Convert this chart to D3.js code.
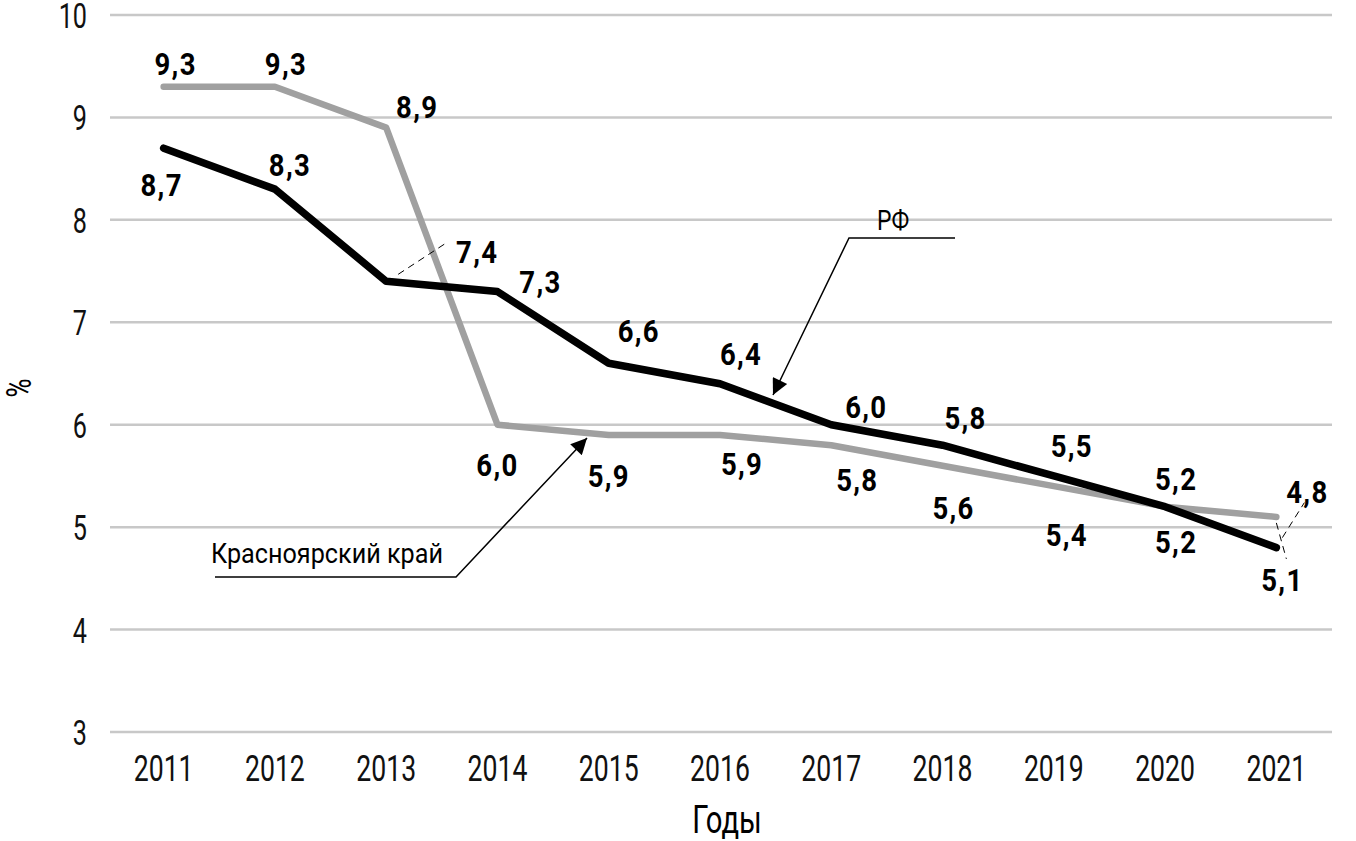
<!DOCTYPE html>
<html>
<head>
<meta charset="utf-8">
<script src="https://cdn.jsdelivr.net/npm/d3@7"></script>
<style>
  body { margin: 0; background: #fff; }
  svg { display: block; font-family: "Roboto", "DejaVu Sans Condensed", sans-serif; }
</style>
</head>
<body>
<div id="chart"></div>
<script>
// --- data ---
const years = ["2011", "2012", "2013", "2014", "2015", "2016", "2017", "2018", "2019", "2020", "2021"];
const rfValues = [8.7, 8.3, 7.4, 7.3, 6.6, 6.4, 6.0, 5.8, 5.5, 5.2, 4.8];
const krasValues = [9.3, 9.3, 8.9, 6.0, 5.9, 5.9, 5.8, 5.6, 5.4, 5.2, 5.1];
const yTicks = [3, 4, 5, 6, 7, 8, 9, 10];

// label offsets (px from the point) so labels don't collide
const rfLabelOffsets = [[-2, 37], [15, -24], [91, -29], [43, -10], [30, -32], [21, -30], [35, -18], [23, -27], [18, -30], [11, -28], [31, -56]];
const krasLabelOffsets = [[12, -23], [11, -23], [31, -21], [0, 40], [0, 41], [22, 29], [26, 35], [11, 42], [13, 49], [11, 35], [6, 63]];

const W = 1356, H = 841;
const svg = d3.select('#chart').append('svg').attr('width', W).attr('height', H);

const x = d3.scalePoint().domain(years).range([108, 1332]).padding(0.5);
const y = d3.scaleLinear().domain([3, 10]).range([732, 15]);

// condensed look: squeeze text horizontally
const tr = (px, py, sx) => `translate(${px},${py}) scale(${sx},1)`;

const defs = svg.append('defs');
defs.append('marker')
  .attr('id', 'arrow')
  .attr('viewBox', '0 0 10 10')
  .attr('refX', 10).attr('refY', 5)
  .attr('markerWidth', 24).attr('markerHeight', 16)
  .attr('markerUnits', 'userSpaceOnUse')
  .attr('orient', 'auto')
  .append('path').attr('d', 'M0,0 L10,5 L0,10 Z').attr('fill', '#000');

// gridlines
svg.append('g').selectAll('line').data(yTicks).join('line')
  .attr('x1', 110).attr('x2', 1332)
  .attr('y1', d => y(d)).attr('y2', d => y(d))
  .attr('stroke', '#c8c8c8').attr('stroke-width', 2.5);

// y tick labels
svg.append('g').selectAll('text').data(yTicks).join('text')
  .attr('transform', d => tr(87, y(d) + 13, 0.72))
  .attr('text-anchor', 'end')
  .attr('font-size', 35)
  .attr('fill', '#111')
  .text(d => d);

// x tick labels
svg.append('g').selectAll('text').data(years).join('text')
  .attr('transform', d => tr(x(d), 781, 0.72))
  .attr('text-anchor', 'middle')
  .attr('font-size', 37)
  .attr('fill', '#111')
  .text(d => d);

// axis titles
svg.append('text')
  .attr('transform', 'translate(31,388) rotate(-90) scale(0.72,1)')
  .attr('text-anchor', 'middle')
  .attr('font-size', 36)
  .text('%');
svg.append('text')
  .attr('transform', tr(727, 833, 0.75))
  .attr('text-anchor', 'middle')
  .attr('font-size', 39)
  .text('Годы');

const line = d3.line().x((d, i) => x(years[i])).y(d => y(d));

svg.append('path').datum(krasValues)
  .attr('d', line)
  .attr('fill', 'none')
  .attr('stroke', '#a0a0a0')
  .attr('stroke-width', 6.5)
  .attr('stroke-linecap', 'round')
  .attr('stroke-linejoin', 'round');

svg.append('path').datum(rfValues)
  .attr('d', line)
  .attr('fill', 'none')
  .attr('stroke', '#000')
  .attr('stroke-width', 7.5)
  .attr('stroke-linecap', 'round')
  .attr('stroke-linejoin', 'round');

const fmt = v => d3.format('.1f')(v).replace('.', ',');

// dashed leader lines for displaced labels
const leaders = [
  { x: x('2013') + 12, y: y(rfValues[2]) - 7, x2: x('2013') + 61, y2: y(rfValues[2]) - 39 },
  { x: x('2021') + 6, y: y(rfValues[10]) - 10, x2: x('2021') + 28, y2: y(rfValues[10]) - 45 },
  { x: x('2021'), y: y(krasValues[10]) + 6, x2: x('2021') + 10, y2: y(krasValues[10]) + 42 }
];
svg.append('g').selectAll('line').data(leaders).join('line')
  .attr('x1', d => d.x).attr('y1', d => d.y)
  .attr('x2', d => d.x2).attr('y2', d => d.y2)
  .attr('stroke', '#000').attr('stroke-width', 1)
  .attr('stroke-dasharray', '7,5');

function drawLabels(values, offsets) {
  svg.append('g').selectAll('text').data(values).join('text')
    .attr('transform', (d, i) => tr(x(years[i]) + offsets[i][0], y(d) + offsets[i][1] + 11, 0.86))
    .attr('text-anchor', 'middle')
    .attr('font-size', 32)
    .attr('font-weight', 'bold')
    .attr('letter-spacing', 1.5)
    .attr('fill', '#000')
    .text(d => fmt(d));
}
drawLabels(krasValues, krasLabelOffsets);
drawLabels(rfValues, rfLabelOffsets);

// series callouts
svg.append('polyline')
  .attr('points', [[955, 238], [849, 238], [773, 395]].join(' '))
  .attr('fill', 'none').attr('stroke', '#000').attr('stroke-width', 1.5)
  .attr('marker-end', 'url(#arrow)');
svg.append('text')
  .attr('transform', tr(893, 230, 0.85))
  .attr('text-anchor', 'middle')
  .attr('font-size', 27)
  .text('РФ');

svg.append('polyline')
  .attr('points', [[215, 577], [456, 577], [587, 438]].join(' '))
  .attr('fill', 'none').attr('stroke', '#000').attr('stroke-width', 1.5)
  .attr('marker-end', 'url(#arrow)');
svg.append('text')
  .attr('transform', tr(327, 563, 0.9))
  .attr('text-anchor', 'middle')
  .attr('font-size', 28)
  .text('Красноярский край');
</script>
</body>
</html>
